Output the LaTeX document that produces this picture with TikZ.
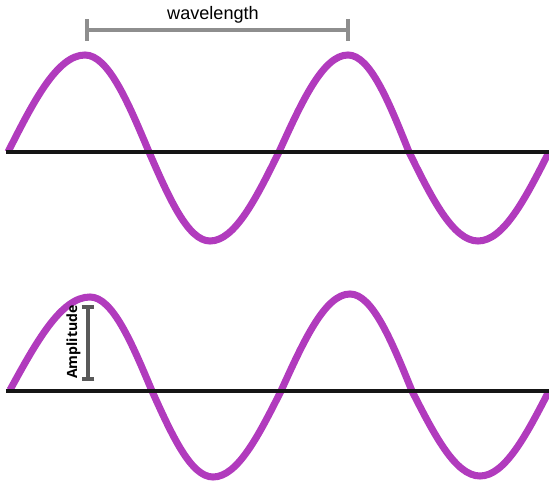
\documentclass[tikz,border=0pt]{standalone}
\usepackage{fontspec}
\setmainfont{Liberation Sans}
\newfontfamily\ampfont{Open Sans}
\usetikzlibrary{arrows.meta}
\definecolor{wavepurple}{HTML}{B13BBD}
\definecolor{axisblack}{HTML}{151515}
\definecolor{barlight}{HTML}{8E8E8E}
\definecolor{bardark}{HTML}{595959}
\tikzset{
  wave/.style={line width=4pt, wavepurple},
  axisline/.style={line width=2.4pt, axisblack},
  dimbar/.style={line width=2.3pt, {Bar[width=#1]}-{Bar[width=#1]}},
}
\begin{document}
\begin{tikzpicture}[x=0.02cm, y=-0.02cm]
    \useasboundingbox (0,0) rectangle (549,486);
    % Top wave
    \draw[wave] (8,152) sin (85,55) cos (149,152) sin (210,241) cos (279,152)
        sin (348,55) cos (409,152) sin (478,241) cos (549,152);
    \draw[axisline] (6,152) -- (549,152);
    % Bottom wave
    \draw[wave] (10,390) sin (90,297) cos (152,391) sin (213,477) cos (281,391)
        sin (350,294) cos (412,391) sin (480,476) cos (549,391);
    \draw[axisline] (6,391) -- (549,391);
    % Wavelength marker
    \coordinate (wl-left) at (85,30);
    \coordinate (wl-right) at (350,30);
    \draw[dimbar=0.44cm, barlight] (wl-left) -- (wl-right);
    \node (wl-label) at (213,15) {\fontsize{10.3}{12}\selectfont wavelength};
    % Amplitude marker
    \coordinate (amp-top) at (88,305);
    \coordinate (amp-bot) at (88,381);
    \draw[dimbar=0.26cm, bardark] (amp-top) -- (amp-bot);
    \node[rotate=90] (amp-label) at (73.5,342) {\ampfont\bfseries\fontsize{8}{9}\selectfont Amplitude};
\end{tikzpicture}
\end{document}
